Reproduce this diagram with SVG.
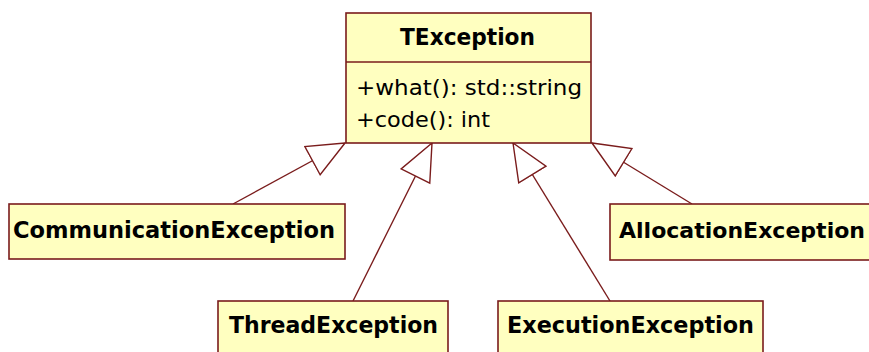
<svg xmlns="http://www.w3.org/2000/svg" width="869" height="352" viewBox="0 0 869 352">
  <style>
    .box { fill: #ffffc0; stroke: #7a1c1c; stroke-width: 1.6; }
    .div { stroke: #7a1c1c; stroke-width: 1.6; }
    .name { font-family: "DejaVu Sans", "Liberation Sans", sans-serif; font-weight: bold; font-size: 23.5px; fill: #000; }
    .op { font-family: "DejaVu Sans", "Liberation Sans", sans-serif; font-size: 20.5px; fill: #000; }
    .gen { stroke: #7a1c1c; stroke-width: 1.4; fill: none; marker-end: url(#hollow); }
  </style>
  <defs>
    <marker id="hollow" markerUnits="userSpaceOnUse" viewBox="-38 -18 40 36" markerWidth="40" markerHeight="36" refX="0" refY="0" orient="auto">
      <path d="M0,0 L-37,-16 L-37,16 Z" fill="#ffffff" stroke="#7a1c1c" stroke-width="1.4"/>
    </marker>
  </defs>
  <rect width="869" height="352" fill="#ffffff"/>

  <g id="connectors">
    <line class="gen" x1="233" y1="204" x2="345" y2="143"/>
    <line class="gen" x1="353" y1="301" x2="432" y2="143"/>
    <line class="gen" x1="610" y1="301" x2="513" y2="143"/>
    <line class="gen" x1="692" y1="204" x2="592" y2="143"/>
  </g>

  <g id="TException">
    <rect class="box" x="346" y="13" width="245" height="130"/>
    <line class="div" x1="346" y1="62" x2="591" y2="62"/>
    <text class="name" x="400" y="45" textLength="135" lengthAdjust="spacingAndGlyphs">TException</text>
    <text class="op" x="356" y="95" textLength="226" lengthAdjust="spacingAndGlyphs">+what(): std::string</text>
    <text class="op" x="356" y="127" textLength="134" lengthAdjust="spacingAndGlyphs">+code(): int</text>
  </g>

  <g id="CommunicationException">
    <rect class="box" x="9" y="204" width="336" height="55"/>
    <text class="name" x="13" y="238" textLength="322" lengthAdjust="spacingAndGlyphs">CommunicationException</text>
  </g>

  <g id="AllocationException">
    <rect class="box" x="610" y="204" width="275" height="56"/>
    <text class="name" x="619" y="238" font-size="22px" style="font-size:22px" textLength="246" lengthAdjust="spacingAndGlyphs">AllocationException</text>
  </g>

  <g id="ThreadException">
    <rect class="box" x="218" y="301" width="230" height="60"/>
    <text class="name" x="229" y="333" textLength="209" lengthAdjust="spacingAndGlyphs">ThreadException</text>
  </g>

  <g id="ExecutionException">
    <rect class="box" x="498" y="301" width="265" height="60"/>
    <text class="name" x="507" y="333" textLength="247" lengthAdjust="spacingAndGlyphs">ExecutionException</text>
  </g>
</svg>
